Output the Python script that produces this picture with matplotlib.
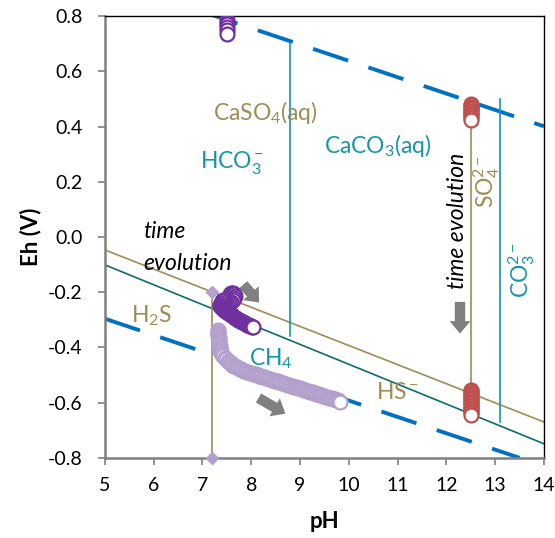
import matplotlib
matplotlib.use("Agg")
import matplotlib.pyplot as plt
from matplotlib.ticker import FuncFormatter
import numpy as np

plt.rcParams['font.family'] = ['Lato', 'DejaVu Sans']
plt.rcParams['axes.unicode_minus'] = False
plt.rcParams['mathtext.fontset'] = 'custom'
plt.rcParams['mathtext.rm'] = 'Lato'
plt.rcParams['mathtext.it'] = 'Lato:italic'

# stability field boundaries (pH, Eh)
water_up_ph = [7.0, 14.0]
water_up_eh = [0.816, 0.401]
water_lo_ph = [5.0, 13.5]
water_lo_eh = [-0.296, -0.80]
s_line_ph = [5.0, 14.0]
s_line_eh = [-0.047, -0.67]
c_line_ph = [5.0, 14.0]
c_line_eh = [-0.101, -0.749]
h2s_vert_ph = [7.2, 7.2]
h2s_vert_eh = [-0.80, -0.20]
so4_vert_ph = [12.5, 12.5]
so4_vert_eh = [-0.57, 0.40]
hco3_vert_ph = [8.8, 8.8]
hco3_vert_eh = [-0.36, 0.70]
co3_vert_ph = [13.1, 13.1]
co3_vert_eh = [-0.67, 0.50]

# measured points
purple_top_ph = [7.5, 7.5, 7.5, 7.5, 7.5, 7.5]
purple_top_eh = [0.785, 0.778, 0.77, 0.762, 0.75, 0.737]
red_top_ph = [12.5] * 12
red_top_eh = [0.482, 0.477, 0.472, 0.467, 0.462, 0.457, 0.452, 0.447, 0.442, 0.437,
              0.432, 0.425]
red_bot_ph = [12.5] * 19
red_bot_eh = [-0.553, -0.558, -0.563, -0.568, -0.573, -0.578, -0.583, -0.588, -0.593,
              -0.598, -0.603, -0.608, -0.613, -0.618, -0.623, -0.628, -0.633, -0.638, -0.645]
dark_ph = [7.56, 7.59, 7.62, 7.65, 7.66, 7.65, 7.62, 7.59, 7.55, 7.51, 7.47, 7.44, 7.42,
           7.40, 7.38, 7.37, 7.37, 7.39, 7.41, 7.43, 7.45, 7.47, 7.49, 7.51, 7.53, 7.55,
           7.57, 7.59, 7.61, 7.63, 7.65, 7.67, 7.69, 7.71, 7.73, 7.75, 7.77, 7.79, 7.81,
           7.83, 7.85, 7.87, 7.89, 7.91, 7.93, 7.95, 7.97, 7.99, 8.01, 8.03]
dark_eh = [-0.207, -0.203, -0.203, -0.207, -0.214, -0.222, -0.229, -0.234, -0.237, -0.238,
           -0.236, -0.232, -0.229, -0.233, -0.239, -0.245, -0.251, -0.255, -0.258, -0.261,
           -0.264, -0.267, -0.269, -0.272, -0.274, -0.277, -0.279, -0.282, -0.284, -0.287,
           -0.289, -0.292, -0.294, -0.297, -0.299, -0.301, -0.303, -0.305, -0.307, -0.309,
           -0.311, -0.313, -0.315, -0.317, -0.318, -0.32, -0.322, -0.323, -0.325, -0.326]
lilac_ph = [7.32, 7.32, 7.32, 7.32, 7.32, 7.33, 7.33, 7.33, 7.34, 7.34, 7.35, 7.35, 7.36,
            7.37, 7.39, 7.41, 7.43, 7.46, 7.49, 7.52, 7.55, 7.58, 7.61, 7.64, 7.67, 7.70,
            7.73, 7.76, 7.79, 7.82, 7.85, 7.88, 7.91, 7.94, 7.97, 8.00, 8.03, 8.06, 8.09,
            8.12, 8.15, 8.18, 8.21, 8.24, 8.27, 8.30, 8.33, 8.36, 8.39, 8.42, 8.45, 8.48,
            8.51, 8.54, 8.57, 8.60, 8.63, 8.66, 8.69, 8.72, 8.75, 8.78, 8.81, 8.84, 8.87,
            8.90, 8.93, 8.96, 8.99, 9.02, 9.05, 9.08, 9.11, 9.14, 9.17, 9.20, 9.23, 9.26,
            9.29, 9.32, 9.35, 9.38, 9.41, 9.44, 9.47, 9.50, 9.53, 9.56, 9.59, 9.62, 9.65,
            9.68, 9.71, 9.74, 9.77, 9.80, 9.83]
lilac_eh = [-0.337, -0.342, -0.347, -0.353, -0.359, -0.365, -0.371, -0.377, -0.383, -0.389,
            -0.395, -0.401, -0.407, -0.413, -0.419, -0.425, -0.431, -0.437, -0.443, -0.448,
            -0.453, -0.458, -0.462, -0.466, -0.469, -0.472, -0.475, -0.478, -0.480, -0.482,
            -0.484, -0.486, -0.488, -0.490, -0.491, -0.493, -0.495, -0.497, -0.498, -0.500,
            -0.502, -0.503, -0.505, -0.507, -0.508, -0.510, -0.512, -0.513, -0.515, -0.517,
            -0.518, -0.520, -0.522, -0.523, -0.525, -0.527, -0.528, -0.530, -0.532, -0.533,
            -0.535, -0.537, -0.538, -0.540, -0.542, -0.543, -0.545, -0.547, -0.548, -0.550,
            -0.552, -0.553, -0.555, -0.557, -0.558, -0.560, -0.562, -0.563, -0.565, -0.567,
            -0.568, -0.570, -0.572, -0.573, -0.575, -0.577, -0.578, -0.580, -0.582, -0.583,
            -0.585, -0.587, -0.588, -0.590, -0.592, -0.594, -0.597]

tan = '#9E8C57'
teal = '#1596A6'
dkteal = '#0E6B6E'
blue = '#0070C0'

fig = plt.figure(figsize=(5.55, 5.38), dpi=100)
ax = fig.add_axes([0.189, 0.149, 0.791, 0.821])

ax.plot(water_up_ph, water_up_eh, color=blue, lw=2.8, dashes=(9.5, 5.5))
ax.plot(water_lo_ph, water_lo_eh, color=blue, lw=2.8, dashes=(9.5, 5.5))
ax.plot(s_line_ph, s_line_eh, color=tan, lw=1.2)
ax.plot(c_line_ph, c_line_eh, color=dkteal, lw=1.2)
ax.plot(h2s_vert_ph, h2s_vert_eh, color=tan, lw=1.2, marker='D', ms=6,
        mfc='#B4A0CC', mec='#B4A0CC', clip_on=False, zorder=4)
ax.plot(so4_vert_ph, so4_vert_eh, color=tan, lw=1.2)
ax.plot(hco3_vert_ph, hco3_vert_eh, color=teal, lw=1.2)
ax.plot(co3_vert_ph, co3_vert_eh, color=teal, lw=1.2)

mk = dict(ls='none', marker='o', ms=10, mfc='white', mew=1.6, zorder=5)
ax.plot(purple_top_ph, purple_top_eh, mec='#7030A0', **mk)
ax.plot(red_top_ph, red_top_eh, mec='#C0504D', **mk)
ax.plot(red_bot_ph, red_bot_eh, mec='#C0504D', **mk)
ax.plot(dark_ph, dark_eh, mec='#7030A0', **mk)
ax.plot(lilac_ph, lilac_eh, mec='#B4A0CC', **mk)

# gray arrows
ap = dict(arrowstyle='simple,head_width=1.5,head_length=0.9,tail_width=0.75',
          color='#808080', lw=0)
ax.annotate('', xy=(8.2, -0.245), xytext=(7.8, -0.165), arrowprops=ap)
ax.annotate('', xy=(8.75, -0.645), xytext=(8.1, -0.578), arrowprops=ap)
ax.annotate('', xy=(12.28, -0.36), xytext=(12.28, -0.225), arrowprops=ap)

fs = 16.5
ax.text(8.3, 0.45, 'CaSO$_4$(aq)', color=tan, fontsize=fs, ha='center', va='center')
ax.text(7.6, 0.27, 'HCO$_3^-$', color=teal, fontsize=fs, ha='center', va='center')
ax.text(10.6, 0.33, 'CaCO$_3$(aq)', color=teal, fontsize=fs, ha='center', va='center')
ax.text(12.22, 0.06, 'time evolution', color='black', fontsize=fs, style='italic',
        rotation=90, ha='center', va='center')
ax.text(12.82, 0.2, 'SO$_4^{2-}$', color=tan, fontsize=fs, rotation=90,
        ha='center', va='center')
ax.text(13.55, -0.12, 'CO$_3^{2-}$', color=teal, fontsize=fs, rotation=90,
        ha='center', va='center')
ax.text(5.78, 0.02, 'time', color='black', fontsize=fs, style='italic', va='center')
ax.text(5.78, -0.095, 'evolution', color='black', fontsize=fs, style='italic', va='center')
ax.text(5.95, -0.285, 'H$_2$S', color=tan, fontsize=fs, ha='center', va='center')
ax.text(8.4, -0.44, 'CH$_4$', color=teal, fontsize=fs, ha='center', va='center')
ax.text(11.0, -0.565, 'HS$^-$', color=tan, fontsize=fs, ha='center', va='center')

ax.set_xlim(5, 14)
ax.set_ylim(-0.8, 0.8)
ax.set_xticks(np.arange(5, 15, 1))
ax.set_yticks(np.arange(-0.8, 0.81, 0.2))
ax.yaxis.set_major_formatter(FuncFormatter(lambda v, p: '%.1f' % (0.0 if abs(v) < 1e-9 else v)))
ax.tick_params(labelsize=14, length=5, width=1.2, color='#808080', direction='out')
ax.tick_params(axis='x', pad=9)
ax.tick_params(axis='y', pad=11)
for s in ['left', 'bottom']:
    ax.spines[s].set_color('#808080')
    ax.spines[s].set_linewidth(1.8)
for s in ['top', 'right']:
    ax.spines[s].set_color('black')
    ax.spines[s].set_linewidth(1.0)
ax.set_xlabel('pH', fontsize=16, fontweight='bold', labelpad=12)
ax.set_ylabel('Eh (V)', fontsize=16, fontweight='bold', labelpad=5)

fig.savefig('out.png', dpi=100)
